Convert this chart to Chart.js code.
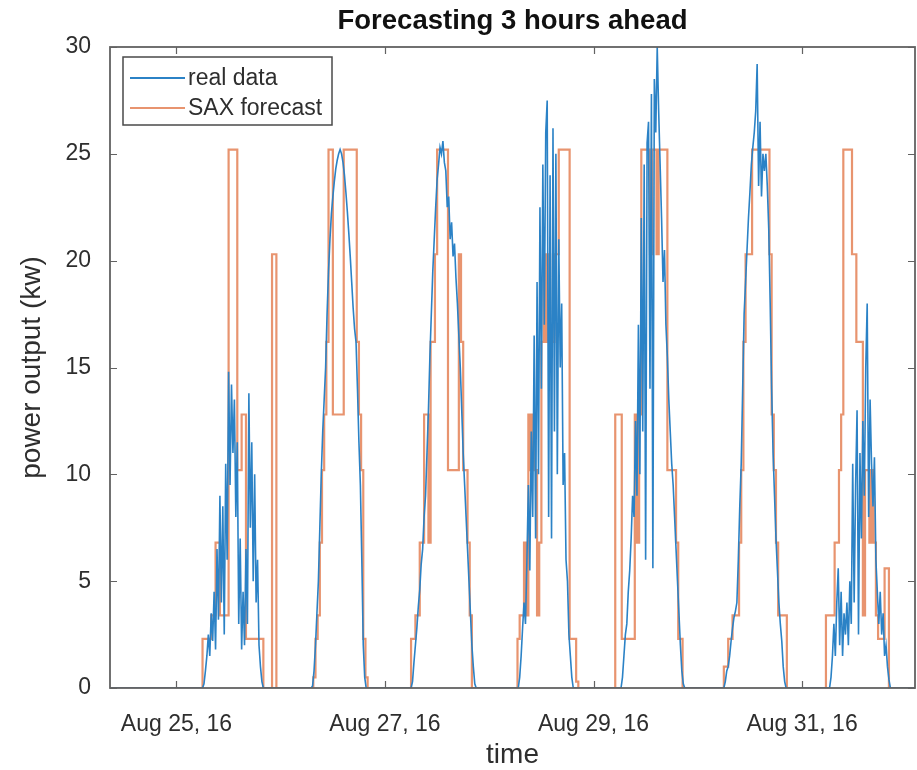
<!DOCTYPE html>
<html>
<head>
<meta charset="utf-8">
<title>Forecasting 3 hours ahead</title>
<script src="https://cdn.jsdelivr.net/npm/chart.js@4.4.1/dist/chart.umd.min.js"></script>
<style>
  html, body { margin: 0; padding: 0; background: #fff; }
  canvas { display: block; }
</style>
</head>
<body>
<canvas id="chart" width="917" height="770"></canvas>
<script>
// x values are hours counted from Aug 24, 2016 00:00
var xMin = 8.7;
var xMax = 194;
var tickHours = [24, 72, 120, 168];
var tickLabels = ['Aug 25, 16', 'Aug 27, 16', 'Aug 29, 16', 'Aug 31, 16'];
var yTicks = [0, 5, 10, 15, 20, 25, 30];

// real data: one sample every 20 minutes, daylight hours of each day
var realStep = 1 / 3;
var realStart = [29, 55, 78, 102.67, 126.33, 150, 174.33];
var realAug25 = [0, 0, 0, 0, 0.2, 0.8, 1.5, 2.5, 1.5, 3.5, 2.2, 4.5, 1.8, 6.5, 3.2, 9.0, 4.0, 8.5, 2.5, 10.5, 6.0, 14.8, 9.5, 14.2, 11.0, 13.5, 8.0, 11.5, 3.0, 7.0, 1.8, 4.5, 2.0, 6.5, 3.0, 13.8, 7.5, 11.5, 5.0, 10.0, 4.0, 6.0, 2.0, 1.0, 0.3, 0, 0];
var realAug26 = [0, 0.1, 0.8, 2.0, 3.5, 5.0, 7.5, 10.0, 12.0, 13.5, 15.0, 17.5, 19.5, 21.0, 22.2, 23.0, 23.7, 24.3, 24.7, 25.0, 25.2, 25.0, 24.6, 24.0, 23.2, 22.3, 21.3, 20.2, 19.0, 17.8, 16.8, 16.2, 14.0, 11.5, 9.5, 6.0, 2.0, 0.5, 0];
var realAug27 = [0, 0.3, 1.2, 2.0, 2.8, 3.8, 4.6, 5.8, 6.5, 8.0, 9.0, 11.0, 13.0, 15.5, 17.5, 19.5, 21.0, 22.5, 23.8, 24.5, 25.3, 25.0, 25.6, 24.6, 24.2, 22.5, 23.0, 21.0, 21.8, 20.2, 20.8, 19.2, 18.0, 16.5, 15.0, 13.0, 11.0, 9.5, 8.0, 6.5, 5.0, 3.5, 2.0, 1.0, 0.2, 0];
var realAug28 = [0, 0.5, 1.5, 2.8, 4.0, 3.0, 6.0, 9.5, 5.5, 12.0, 8.0, 16.5, 7.0, 19.0, 10.0, 22.5, 14.0, 24.5, 17.0, 26.0, 27.5, 8.0, 24.0, 7.0, 26.2, 12.0, 25.0, 10.0, 21.0, 15.0, 18.0, 9.5, 11.0, 6.0, 5.0, 2.5, 1.5, 0.5, 0];
var realAug29 = [0, 0.5, 1.5, 2.5, 3.0, 4.5, 5.5, 7.0, 9.0, 8.0, 12.5, 9.0, 17.0, 10.0, 22.0, 12.0, 24.5, 6.0, 25.5, 26.5, 14.0, 27.8, 5.6, 28.5, 26.0, 30.0, 27.0, 24.5, 22.0, 19.0, 20.5, 17.0, 15.5, 13.5, 12.0, 10.5, 9.5, 8.0, 6.5, 5.0, 3.5, 2.0, 0.8, 0.2, 0];
var realAug30 = [0, 0.3, 0.8, 1.0, 1.5, 2.2, 2.8, 3.3, 3.6, 4.0, 6.0, 8.5, 10.5, 14.0, 17.5, 19.0, 20.5, 22.0, 23.2, 24.5, 25.3, 26.0, 27.0, 29.2, 23.5, 26.5, 23.0, 25.0, 24.2, 25.0, 23.5, 21.5, 18.0, 14.0, 11.0, 9.0, 7.0, 5.5, 4.0, 3.0, 2.2, 1.0, 0.3, 0];
var realAug31 = [0, 0.5, 1.5, 3.0, 1.5, 4.0, 5.6, 2.0, 4.5, 1.5, 3.5, 2.5, 4.0, 2.0, 5.0, 3.0, 10.5, 4.0, 9.5, 13.0, 2.5, 11.0, 7.0, 12.5, 9.0, 15.0, 18.0, 8.0, 13.5, 10.5, 8.5, 10.8, 6.0, 4.5, 3.0, 4.5, 2.5, 3.5, 1.5, 2.0, 1.0, 0.4, 0];
var realDays = [realAug25, realAug26, realAug27, realAug28, realAug29, realAug30, realAug31];

// SAX forecast: one level every 30 minutes, held until the next one
var saxStep = 0.5;
var saxStart = [29.5, 55, 78, 102.5, 124.5, 150, 173.5];
var saxAug25 = [0, 2.3, 2.3, 2.3, 2.3, 3.4, 3.4, 6.8, 6.8, 3.4, 3.4, 3.4, 3.4, 25.2, 25.2, 25.2, 25.2, 10.2, 10.2, 12.8, 12.8, 2.3, 2.3, 2.3, 2.3, 2.3, 2.3, 2.3, 2.3, 0, 0, 0, 0, 20.3, 20.3, 0];
var saxAug26 = [0, 0.5, 2.3, 3.4, 6.8, 10.2, 12.8, 16.2, 25.2, 25.2, 12.8, 12.8, 12.8, 12.8, 12.8, 25.2, 25.2, 25.2, 25.2, 25.2, 25.2, 16.2, 12.8, 10.2, 2.3, 0.5, 0];
var saxAug27 = [2.3, 2.3, 3.4, 3.4, 6.8, 6.8, 12.8, 12.8, 6.8, 16.2, 16.2, 20.3, 25.2, 25.2, 25.2, 25.2, 25.2, 10.2, 10.2, 10.2, 10.2, 10.2, 20.3, 16.2, 10.2, 10.2, 6.8, 3.4, 0];
var saxAug28 = [2.3, 3.4, 3.4, 6.8, 3.4, 12.8, 10.2, 12.8, 10.2, 3.4, 6.8, 16.2, 20.3, 16.2, 20.3, 16.2, 16.2, 20.3, 20.3, 25.2, 25.2, 25.2, 25.2, 25.2, 2.3, 2.3, 2.3, 0.3, 0];
var saxAug29 = [0, 12.8, 12.8, 12.8, 2.3, 2.3, 2.3, 2.3, 2.3, 2.3, 12.8, 6.8, 12.8, 25.2, 25.2, 25.2, 25.2, 20.3, 25.2, 25.2, 20.3, 25.2, 25.2, 25.2, 25.2, 10.2, 10.2, 10.2, 10.2, 6.8, 2.3, 2.3, 0];
var saxAug30 = [1.0, 1.0, 2.3, 2.3, 3.4, 3.4, 3.4, 6.8, 10.2, 16.2, 20.3, 20.3, 20.3, 25.2, 25.2, 25.2, 25.2, 25.2, 25.2, 25.2, 25.2, 20.3, 12.8, 10.2, 6.8, 3.4, 3.4, 3.4, 3.4, 0];
var saxAug31 = [3.4, 3.4, 3.4, 3.4, 6.8, 6.8, 10.2, 12.8, 25.2, 25.2, 25.2, 25.2, 20.3, 20.3, 16.2, 16.2, 16.2, 3.4, 10.2, 10.2, 6.8, 10.2, 6.8, 3.4, 2.3, 2.3, 2.3, 5.6, 5.6, 0];
var saxDays = [saxAug25, saxAug26, saxAug27, saxAug28, saxAug29, saxAug30, saxAug31];

var realColor = '#2b82c6';
var saxColor = '#e8946f';
var axisColor = '#626262';
var textColor = '#2e2e2e';
var fontFamily = "'Liberation Sans', Arial, Helvetica, sans-serif";

function buildSeries(starts, days, step) {
    var pts = [{x: xMin, y: 0}];
    days.forEach(function(vals, d) {
        vals.forEach(function(v, i) {
            pts.push({x: starts[d] + i * step, y: v});
        });
    });
    pts.push({x: xMax, y: 0});
    return pts;
}

// box, inward tick marks and the legend, MATLAB style
var matlabFrame = {
    id: 'matlabFrame',
    afterDraw: function(chart) {
        var ctx = chart.ctx;
        var a = chart.chartArea;
        var xs = chart.scales.x;
        var ys = chart.scales.y;
        var tickLen = 7;

        ctx.save();
        ctx.strokeStyle = axisColor;
        ctx.lineWidth = 1.8;
        ctx.strokeRect(a.left, a.top, a.right - a.left, a.bottom - a.top);

        ctx.beginPath();
        ys.ticks.forEach(function(t) {
            var py = Math.round(ys.getPixelForValue(t.value)) + 0.5;
            ctx.moveTo(a.left, py); ctx.lineTo(a.left + tickLen, py);
            ctx.moveTo(a.right, py); ctx.lineTo(a.right - tickLen, py);
        });
        xs.ticks.forEach(function(t) {
            var px = Math.round(xs.getPixelForValue(t.value)) + 0.5;
            ctx.moveTo(px, a.bottom); ctx.lineTo(px, a.bottom - tickLen);
            ctx.moveTo(px, a.top); ctx.lineTo(px, a.top + tickLen);
        });
        ctx.lineWidth = 1.2;
        ctx.stroke();

        // legend
        var lx = a.left + 13, ly = a.top + 10, lw = 209, lh = 68;
        ctx.fillStyle = '#ffffff';
        ctx.fillRect(lx, ly, lw, lh);
        ctx.strokeStyle = '#4a4a4a';
        ctx.lineWidth = 1.5;
        ctx.strokeRect(lx, ly, lw, lh);

        ctx.font = '23px ' + fontFamily;
        ctx.textBaseline = 'middle';
        ctx.textAlign = 'left';
        chart.data.datasets.forEach(function(ds, i) {
            var rowY = ly + 21 + i * 30;
            ctx.strokeStyle = ds.borderColor;
            ctx.lineWidth = 2;
            ctx.beginPath();
            ctx.moveTo(lx + 7, rowY);
            ctx.lineTo(lx + 62, rowY);
            ctx.stroke();
            ctx.fillStyle = textColor;
            ctx.fillText(ds.label, lx + 65, rowY + 1);
        });
        ctx.restore();
    }
};

window.onload = function() {
    var ctx = document.getElementById('chart').getContext('2d');
    var chart = new Chart(ctx, {
        type: 'line',
        data: {
            datasets: [{
                label: 'real data',
                data: buildSeries(realStart, realDays, realStep),
                borderColor: realColor,
                borderWidth: 1.6,
                pointRadius: 0,
                tension: 0
            }, {
                label: 'SAX forecast',
                data: buildSeries(saxStart, saxDays, saxStep),
                borderColor: saxColor,
                borderWidth: 2.2,
                pointRadius: 0,
                stepped: 'before'
            }]
        },
        options: {
            responsive: false,
            devicePixelRatio: 1,
            animation: false,
            events: [],
            layout: {
                padding: {left: 0, right: 2, top: 0, bottom: 0}
            },
            plugins: {
                legend: { display: false },
                tooltip: { enabled: false },
                title: {
                    display: true,
                    text: 'Forecasting 3 hours ahead',
                    fullSize: false,
                    color: '#111111',
                    font: { family: fontFamily, size: 27.5, weight: 'bold', lineHeight: 1.2 },
                    padding: { top: 4.5, bottom: 9.5 }
                }
            },
            scales: {
                x: {
                    type: 'linear',
                    min: xMin,
                    max: xMax,
                    grid: { display: false },
                    border: { display: false },
                    afterBuildTicks: function(scale) {
                        scale.ticks = tickHours.map(function(v) { return {value: v}; });
                    },
                    afterFit: function(scale) { scale.height = 82; },
                    ticks: {
                        autoSkip: false,
                        maxRotation: 0,
                        minRotation: 0,
                        padding: 15,
                        color: textColor,
                        font: { family: fontFamily, size: 23 },
                        callback: function(value) {
                            return tickLabels[tickHours.indexOf(value)];
                        }
                    },
                    title: {
                        display: true,
                        text: 'time',
                        color: textColor,
                        font: { family: fontFamily, size: 28, lineHeight: 1 },
                        padding: { top: 0, bottom: 1 }
                    }
                },
                y: {
                    min: 0,
                    max: 30,
                    grid: { display: false },
                    border: { display: false },
                    afterBuildTicks: function(scale) {
                        scale.ticks = yTicks.map(function(v) { return {value: v}; });
                    },
                    afterFit: function(scale) { scale.width = 110; },
                    ticks: {
                        padding: 11,
                        color: textColor,
                        font: { family: fontFamily, size: 23 }
                    },
                    title: {
                        display: true,
                        text: 'power output (kw)',
                        color: textColor,
                        font: { family: fontFamily, size: 28, lineHeight: 1 },
                        padding: { top: 18, bottom: 0 }
                    }
                }
            }
        },
        plugins: [matlabFrame]
    });
};
</script>
</body>
</html>
